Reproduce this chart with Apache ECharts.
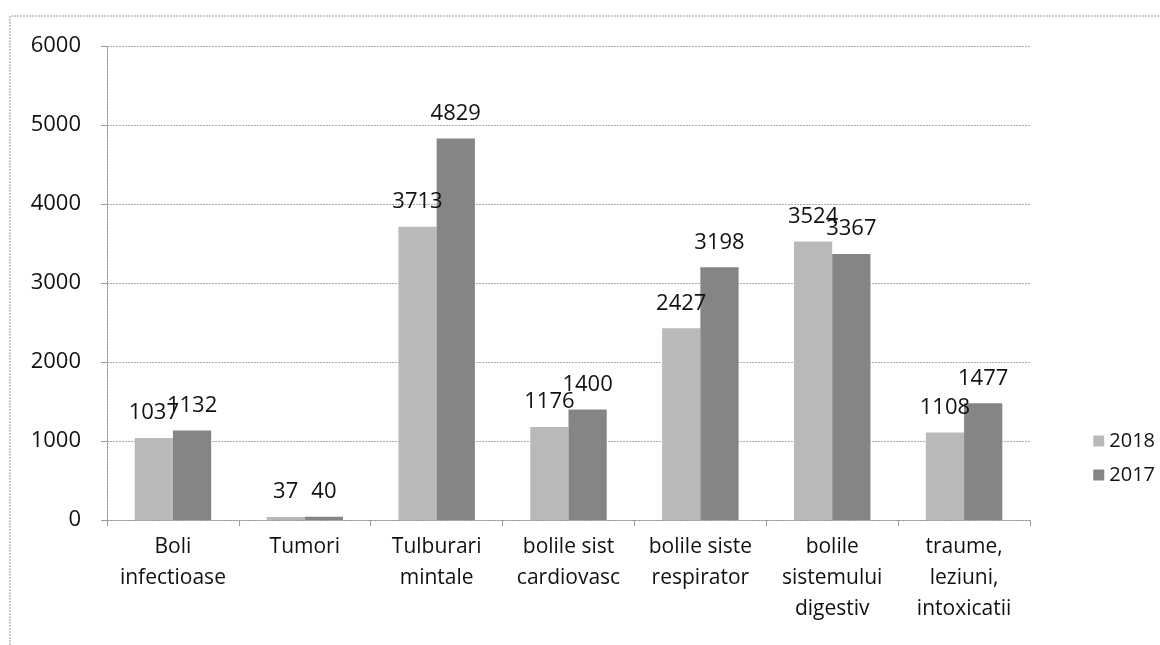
<!DOCTYPE html>
<html><head><meta charset="utf-8">
<script src="https://cdn.jsdelivr.net/npm/echarts@6/dist/echarts.min.js"></script>
<style>html,body{margin:0;padding:0;background:#fff}#c{width:1160px;height:645px}</style>
</head><body><div id="c"></div>
<script>
var categories = ['Boli\ninfectioase','Tumori','Tulburari\nmintale','bolile sist\ncardiovasc','bolile siste\nrespirator','bolile\nsistemului\ndigestiv','traume,\nleziuni,\nintoxicatii'];
var values2018 = [1037, 37, 3713, 1176, 2427, 3524, 1108];
var values2017 = [1132, 40, 4829, 1400, 3198, 3367, 1477];
var seriesNames = ['2018', '2017'];
var yTicks = {min: 0, max: 6000, interval: 1000};

var chart = echarts.init(document.getElementById('c'));
var font = 'Open Sans, DejaVu Sans, sans-serif';
chart.setOption({
  animation: false,
  graphic: [{type:'polyline', shape:{points:[[10,645],[10,16],[1160,16]]}, style:{stroke:'#999', lineWidth:1, lineDash:[2,1], fill:null}}],
  grid: {left: 107, right: 130, top: 46, bottom: 125},
  legend: {
    orient: 'vertical', right: 0, top: 426, itemWidth: 11, itemHeight: 11, itemGap: 14,
    icon: 'rect', textStyle: {fontSize: 20, color: '#111', fontFamily: font},
    data: seriesNames
  },
  xAxis: {
    type: 'category', data: categories,
    axisLine: {lineStyle: {color: '#999', type: [2,1]}},
    axisTick: {show: true, length: 6, lineStyle: {color: '#999'}},
    axisLabel: {fontSize: 21, color: '#111', fontFamily: font, lineHeight: 31, margin: 12, interval: 0}
  },
  yAxis: {
    type: 'value', min: yTicks.min, max: yTicks.max, interval: yTicks.interval,
    axisLine: {show: true, lineStyle: {color: '#999', type: [2,1]}},
    axisTick: {show: true, length: 6, lineStyle: {color: '#999'}},
    axisLabel: {fontSize: 22, color: '#111', fontFamily: font, margin: 26, formatter: function (v) { return String(v); }},
    splitLine: {lineStyle: {color: '#aaa', type: [2,1]}}
  },
  series: [
    {name: seriesNames[0], type: 'bar', data: values2018, barGap: '0%', barCategoryGap: '42%',
     itemStyle: {color: '#b9b9b9'},
     label: {show: true, position: 'top', fontSize: 22, color: '#111', fontFamily: font, distance: 14}},
    {name: seriesNames[1], type: 'bar', data: values2017,
     itemStyle: {color: '#858585'},
     label: {show: true, position: 'top', fontSize: 22, color: '#111', fontFamily: font, distance: 14}}
  ]
});
</script></body></html>
